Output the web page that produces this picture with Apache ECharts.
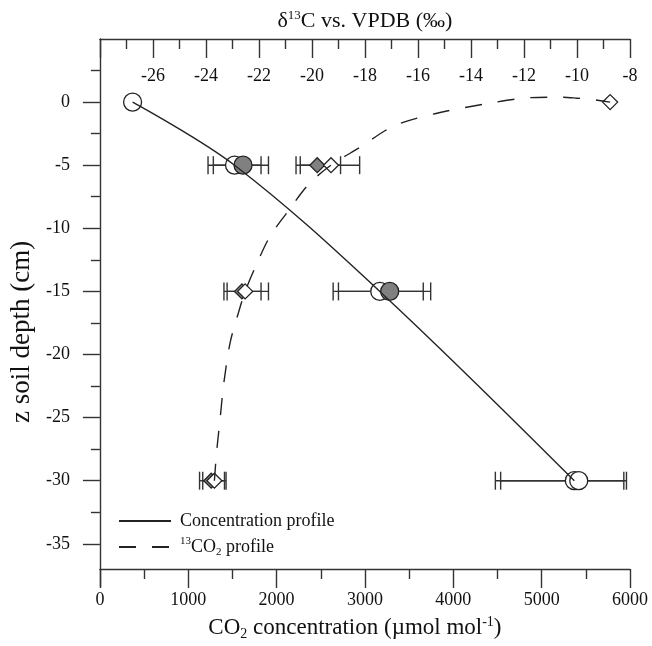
<!DOCTYPE html>
<html><head><meta charset="utf-8">
<script src="https://cdn.jsdelivr.net/npm/echarts@6/dist/echarts.min.js"></script>
<style>html,body{margin:0;padding:0;background:#fff}#c{width:652px;height:646px}</style>
</head><body><div id="c"></div>
<script>
// ---- data ----
const concDepth = [0, -5, -15, -30];
const concOpen = [370, 1524, 3168, 5370];
const concGreyDepth = [-5, -15, -30];
const concGrey = [1620, 3280, 5420];
const concErrDepth = [-5, -15, -30];
const concOpenLow = [1224, 2640, 4476];
const concOpenHigh = [1824, 3660, 5930];
const concGreyLow = [1284, 2700, 4536];
const concGreyHigh = [1908, 3744, 5960];

const d13Depth = [0, -5, -15, -30];
const d13Open = [-8.75, -19.28, -22.52, -23.68];
const d13GreyDepth = [-5, -15, -30];
const d13Grey = [-19.8, -22.64, -23.8];
const d13ErrDepth = [-5, -15, -30];
const d13OpenLow = [-20.44, -23.2, -24.12];
const d13OpenHigh = [-18.2, -21.64, -23.24];
const d13GreyLow = [-20.6, -23.32, -24.24];
const d13GreyHigh = [-18.92, -21.92, -23.3];

const d13ProfileDelta = [-23.68, -23.6, -23.48, -23.32, -23.08, -22.76, -22.52, -22.12, -21.6, -20.92, -20.12, -19.28, -18.2, -16.92, -15.32, -13.32, -11.8, -10.6, -10.0, -9.4, -8.75];
const d13ProfileDepth = [-30, -27.8, -25.4, -22.2, -19, -16.6, -15, -13, -10.7, -8.7, -6.5, -5, -3.6, -1.9, -0.9, -0.1, 0.35, 0.39, 0.31, 0.2, 0];

const yMajorTicks = [0, -5, -10, -15, -20, -25, -30, -35];
const yLabelValues = [0, -5, -10, -15, -20, -25, -30, -35];
const yMinorTicks = [2.5, -2.5, -7.5, -12.5, -17.5, -22.5, -27.5, -32.5];

const FONT = 'Liberation Serif';
const INK = '#222';

function zip(a, b) { return a.map((v, i) => [v, b[i]]); }
function zip3(a, b, c) { return a.map((v, i) => [v, b[i], c[i]]); }

function errRender(params, api) {
  const lo = api.coord([api.value(0), api.value(2)]);
  const hi = api.coord([api.value(1), api.value(2)]);
  const h = 9;
  const style = { stroke: '#333', lineWidth: 1.4, fill: null };
  return { type: 'group', children: [
    { type: 'line', shape: { x1: lo[0], y1: lo[1], x2: hi[0], y2: hi[1] }, style },
    { type: 'line', shape: { x1: lo[0], y1: lo[1] - h, x2: lo[0], y2: lo[1] + h }, style },
    { type: 'line', shape: { x1: hi[0], y1: hi[1] - h, x2: hi[0], y2: hi[1] + h }, style }
  ]};
}

const axisLine = { show: true, onZero: false, lineStyle: { color: '#333', width: 1.4 } };
const tickStyle = { color: '#333', width: 1.4 };
const labelStyle = { fontFamily: FONT, fontSize: 18, color: '#111' };
const nameRich = {
  n: { fontFamily: FONT, fontSize: 23, color: '#111', lineHeight: 26 },
  p: { fontFamily: FONT, fontSize: 14, color: '#111', verticalAlign: 'top', lineHeight: 26 },
  b: { fontFamily: FONT, fontSize: 14, color: '#111', verticalAlign: 'bottom', lineHeight: 22 }
};

const chart = echarts.init(document.getElementById('c'), null, { renderer: 'canvas' });
chart.setOption({
  animation: false,
  backgroundColor: '#fff',
  grid: { left: 93, right: 22, top: 39, bottom: 56.5 },
  legend: {
    orient: 'vertical', left: 113, top: 507,
    itemWidth: 52, itemHeight: 20, itemGap: 6,
    itemStyle: { opacity: 0 },
    data: ['Concentration profile', '13CO2 profile'],
    formatter: function (name) {
      return name === '13CO2 profile' ? '{p|13}{n|CO}{b|2}{n| profile}' : '{n|' + name + '}';
    },
    textStyle: {
      padding: [0, 0, 0, 4],
      rich: {
        n: { fontFamily: FONT, fontSize: 18, color: '#111', lineHeight: 22 },
        p: { fontFamily: FONT, fontSize: 11, color: '#111', verticalAlign: 'top', lineHeight: 22 },
        b: { fontFamily: FONT, fontSize: 11, color: '#111', verticalAlign: 'bottom', lineHeight: 20 }
      }
    }
  },
  xAxis: [
    {
      type: 'value', position: 'bottom', min: 0, max: 6000, interval: 1000, offset: -17.7,
      axisLine, splitLine: { show: false },
      axisTick: { show: true, length: 19, lineStyle: tickStyle },
      minorTick: { show: true, splitNumber: 2, length: 10, lineStyle: tickStyle },
      axisLabel: Object.assign({ margin: 22, formatter: function (v) { return String(v); } }, labelStyle),
      name: '{n|CO}{b|2}{n| concentration (µmol mol}{p|-1}{n|)}',
      nameLocation: 'middle', nameGap: 46,
      nameTextStyle: { rich: nameRich, padding: [0, 20, 0, 0] }
    },
    {
      type: 'value', position: 'top', min: -28, max: -8, interval: 2,
      axisLine, splitLine: { show: false },
      axisTick: { show: true, inside: true, length: 19, lineStyle: tickStyle },
      minorTick: { show: true, splitNumber: 2, length: 10, lineStyle: tickStyle },
      axisLabel: Object.assign({ inside: true, margin: 28, showMinLabel: false, formatter: function (v) { return String(v); } }, labelStyle),
      name: '{n|δ}{p|13}{n|C vs. VPDB (‰)}',
      nameLocation: 'middle', nameGap: 5,
      nameTextStyle: { rich: {
        n: { fontFamily: FONT, fontSize: 22, color: '#111', lineHeight: 25 },
        p: { fontFamily: FONT, fontSize: 13, color: '#111', verticalAlign: 'top', lineHeight: 25 }
      } }
    }
  ],
  yAxis: [
    {
      type: 'value', position: 'left', min: -38.4, max: 5,
      axisLine, splitLine: { show: false },
      axisTick: { show: true, length: 17, lineStyle: tickStyle, customValues: yMajorTicks },
      axisLabel: Object.assign({ margin: 30, customValues: yLabelValues }, labelStyle),
      name: 'z soil depth (cm)', nameLocation: 'middle', nameGap: 58, nameRotate: 90,
      nameTextStyle: { fontFamily: FONT, fontSize: 27, color: '#111', padding: [0, 38, 0, 0] }
    },
    {
      type: 'value', position: 'left', min: -38.4, max: 5,
      axisLine: { show: false }, splitLine: { show: false },
      axisTick: { show: true, length: 9, lineStyle: tickStyle, customValues: yMinorTicks },
      axisLabel: { show: false }
    }
  ],
  series: [
    { type: 'custom', name: 'errConcOpen', xAxisIndex: 0, yAxisIndex: 0, z: 1,
      renderItem: errRender, encode: { x: [0, 1], y: 2 },
      data: zip3(concOpenLow, concOpenHigh, concErrDepth) },
    { type: 'custom', name: 'errConcGrey', xAxisIndex: 0, yAxisIndex: 0, z: 1,
      renderItem: errRender, encode: { x: [0, 1], y: 2 },
      data: zip3(concGreyLow, concGreyHigh, concErrDepth) },
    { type: 'custom', name: 'errD13Open', xAxisIndex: 1, yAxisIndex: 0, z: 1,
      renderItem: errRender, encode: { x: [0, 1], y: 2 },
      data: zip3(d13OpenLow, d13OpenHigh, d13ErrDepth) },
    { type: 'custom', name: 'errD13Grey', xAxisIndex: 1, yAxisIndex: 0, z: 1,
      renderItem: errRender, encode: { x: [0, 1], y: 2 },
      data: zip3(d13GreyLow, d13GreyHigh, d13ErrDepth) },
    { type: 'scatter', name: 'concOpen', xAxisIndex: 0, yAxisIndex: 0, z: 3,
      symbol: 'circle', symbolSize: 18,
      itemStyle: { color: '#fff', borderColor: INK, borderWidth: 1.3, opacity: 1 },
      data: zip(concOpen, concDepth) },
    { type: 'scatter', name: 'concGrey', xAxisIndex: 0, yAxisIndex: 0, z: 4,
      symbol: 'circle', symbolSize: 18,
      itemStyle: { color: function (p) { return p.dataIndex === 2 ? '#fff' : '#808080'; }, borderColor: INK, borderWidth: 1.3, opacity: 1 },
      data: zip(concGrey, concGreyDepth) },
    { type: 'scatter', name: 'd13Grey', xAxisIndex: 1, yAxisIndex: 0, z: 3,
      symbol: 'diamond', symbolSize: 15,
      itemStyle: { color: '#808080', borderColor: INK, borderWidth: 1.3, opacity: 1 },
      data: zip(d13Grey, d13GreyDepth) },
    { type: 'scatter', name: 'd13Open', xAxisIndex: 1, yAxisIndex: 0, z: 4,
      symbol: 'diamond', symbolSize: 15,
      itemStyle: { color: '#fff', borderColor: INK, borderWidth: 1.3, opacity: 1 },
      data: zip(d13Open, d13Depth) },
    { type: 'line', name: 'Concentration profile', xAxisIndex: 0, yAxisIndex: 0, z: 5,
      smooth: 0.35, symbol: 'none',
      lineStyle: { color: INK, width: 1.4 }, itemStyle: { color: INK },
      data: zip(concOpen, concDepth) },
    { type: 'line', name: '13CO2 profile', xAxisIndex: 1, yAxisIndex: 0, z: 5,
      smooth: 0.3, symbol: 'none',
      lineStyle: { color: INK, width: 1.4, type: [17, 16] }, itemStyle: { color: INK },
      data: zip(d13ProfileDelta, d13ProfileDepth) }
  ]
});
</script></body></html>
